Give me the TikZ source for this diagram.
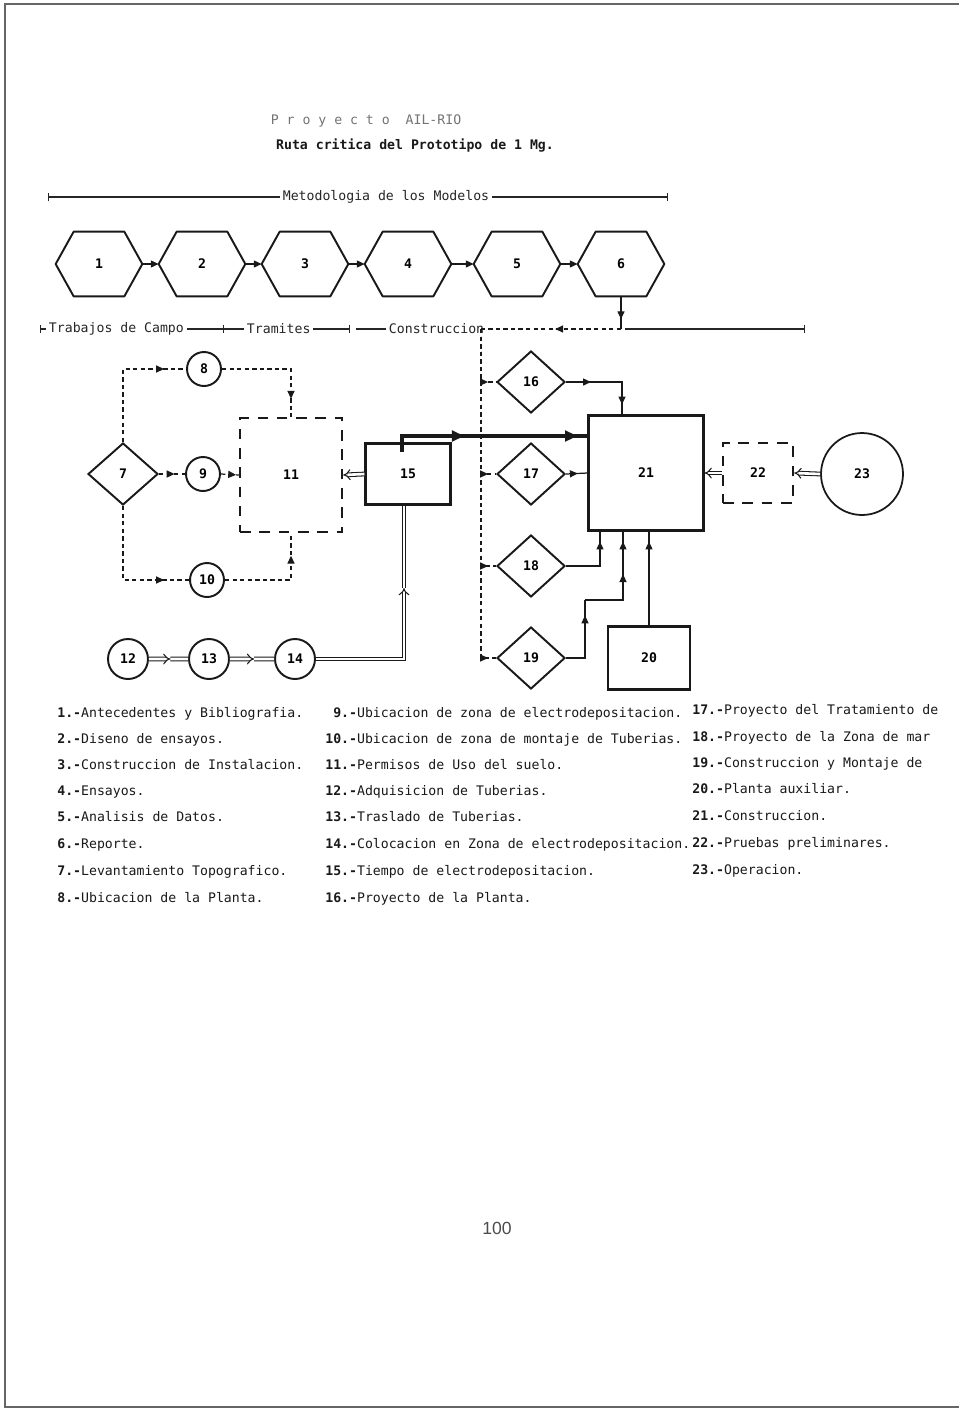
\documentclass[tikz,border=0pt]{standalone}
\usepackage{fontspec}
\setsansfont{Liberation Sans}
\newfontfamily\twfont{DejaVu Sans Mono}
\usetikzlibrary{arrows.meta,shapes.geometric,decorations.markings,calc}
\newcommand\legfont{\twfont\fontsize{7.5pt}{9pt}\selectfont}
\newcommand\labfont{\twfont\bfseries\fontsize{7.5pt}{9pt}\selectfont}
\tikzset{
  tri/.tip={Triangle[length=4.5pt,width=4pt]},
  trib/.tip={Triangle[length=7pt,width=6pt]},
  imp/.tip={Implies[length=5pt,width=9pt]},
  amark/.style={postaction={decorate,decoration={markings,mark=at position #1 with {\arrow{tri}}}}},
  bmark/.style={postaction={decorate,decoration={markings,mark=at position #1 with {\arrow{trib}}}}},
  ln/.style={draw=black!90, line width=1.1pt},
  hexnode/.style={minimum width=1.72cm, minimum height=1.28cm, inner sep=0pt, font=\labfont},
  dia/.style={diamond, draw=black!90, line width=1.1pt, minimum width=1.36cm, minimum height=1.24cm, inner sep=0pt, font=\labfont},
  smallc/.style={circle, draw=black!90, line width=1.1pt, minimum size=0.68cm, inner sep=0pt, font=\labfont},
  midc/.style={circle, draw=black!90, line width=1.1pt, minimum size=0.8cm, inner sep=0pt, font=\labfont},
  bigc/.style={circle, draw=black!90, line width=1pt, minimum size=1.64cm, inner sep=0pt, font=\labfont},
  box/.style={rectangle, draw=black!90, line width=1.2pt, inner sep=0pt, font=\labfont},
  dbox/.style={box, line width=1.4pt, dash pattern=on 6pt off 5pt},
  con/.style={draw=black!90, line width=0.7pt},
  dot/.style={draw=black!90, line width=0.7pt, dash pattern=on 2.5pt off 1.8pt},
  dbl/.style={draw=black!90, double, double distance=1.5pt, line width=0.6pt},
  thk/.style={draw=black!90, line width=2.3pt},
  phase/.style={draw=black!85, line width=0.7pt},
  ph/.style={font=\legfont, text=black!85, inner sep=1.5pt},
  leg/.style={anchor=west, inner sep=0pt, font=\legfont, text=black!90, text height=1.6ex, text depth=0.4ex},
}
\begin{document}
\begin{tikzpicture}[x=0.02cm,y=-0.02cm]
\fill[white] (0,0) rectangle (959,1411);
\useasboundingbox (0,0) rectangle (959,1411);
\draw[black!60, line width=0.6pt] (959,4) -- (5,4) -- (5,1407) -- (959,1407);

% title
\node[font=\legfont, text=black!55] (t1) at (366,121) {P r o y e c t o\ \ AIL-RIO};
\node[font=\labfont, text=black!90] (t2) at (415,146) {Ruta critica del Prototipo de 1 Mg.};

% top timeline
\node[ph] (pM) at (386,197) {Metodologia de los Modelos};
\coordinate (m0) at (48,197);
\coordinate (m1) at (668,197);
\draw[phase,{Bar[width=5pt]}-] (m0) -- (pM.west);
\draw[phase,-{Bar[width=5pt]}] (pM.east) -- (m1);

% hexagons
\node[hexnode] (h1) at (99,264) {1};
\node[hexnode] (h2) at (202,264) {2};
\node[hexnode] (h3) at (305,264) {3};
\node[hexnode] (h4) at (408,264) {4};
\node[hexnode] (h5) at (517,264) {5};
\node[hexnode] (h6) at (621,264) {6};
\foreach \n in {1,...,6}{
  \draw[ln, line join=round] (h\n.west) -- ($(h\n.north west)+(18,0)$) -- ($(h\n.north east)+(-18,0)$) -- (h\n.east) -- ($(h\n.south east)+(-18,0)$) -- ($(h\n.south west)+(18,0)$) -- cycle;
}
\foreach \a/\b in {1/2,2/3,3/4,4/5,5/6}{
  \draw[con,-{tri}] (h\a.east) -- (h\b.west);
}

% phase line
\node[ph, anchor=west] (pTC) at (46,329) {Trabajos de Campo};
\node[ph, anchor=west] (pTr) at (244,329) {Tramites};
\node[ph, anchor=west] (pC) at (386,329) {Construccion};
\coordinate (p0) at (40,329);
\coordinate (b1) at (224,329);
\coordinate (b2) at (350,329);
\coordinate (b3) at (356,329);
\coordinate (j6) at (621,329);
\coordinate (jc) at (481,329);
\coordinate (pe) at (805,329);
\draw[phase,{Bar[width=5pt]}-] (p0) -- (pTC.west);
\draw[phase,-{Bar[width=5pt]}] (pTC.east) -- (b1);
\draw[phase] (b1) -- (pTr.west);
\draw[phase,-{Bar[width=5pt]}] (pTr.east) -- (b2);
\draw[phase] (b3) -- (pC.west);
\draw[phase,-{Bar[width=5pt]}] ($(j6)+(4,0)$) -- (pe);
\draw[con, amark=0.7] (h6.south) -- (j6);
\draw[dot, amark=0.47] (j6) -- (jc);

% left network
\node[dia, minimum width=1.4cm] (n7) at (123,474) {7};
\node[smallc] (n8) at (204,369) {8};
\node[smallc] (n9) at (203,474) {9};
\node[smallc] (n10) at (207,580) {10};
\node[dbox, minimum width=2.04cm, minimum height=2.28cm] (n11) at (291,475) {11};
\node[midc] (n12) at (128,659) {12};
\node[midc] (n13) at (209,659) {13};
\node[midc] (n14) at (295,659) {14};
\node[box, minimum width=1.7cm, minimum height=1.22cm] (n15) at (408,474) {15};

\draw[dot, amark=-0.44cm] (n7.north) |- (n8.west);
\draw[dot, amark=-0.36cm] (n8.east) -| (n11.north);
\draw[dot, amark=0.6] (n7.east) -- (n9.west);
\draw[dot, amark=0.85] (n9.east) -- (n11.west);
\draw[dot, amark=-0.5cm] (n7.south) |- (n10.west);
\draw[dot, amark=-0.45cm] (n10.east) -| (n11.south);

\draw[dbl,-{imp}] (n15.west) -- (n11.east);
\coordinate (m12) at ($(n12.east)!0.55!(n13.west)$);
\coordinate (m13) at ($(n13.east)!0.55!(n14.west)$);
\draw[dbl,-{imp}] (n12.east) -- (m12);
\draw[dbl] (m12) -- (n13.west);
\draw[dbl,-{imp}] (n13.east) -- (m13);
\draw[dbl] (m13) -- (n14.west);
\coordinate (c14) at (404,588);
\draw[dbl,-{imp}] (n14.east) -| (c14);
\draw[dbl] (c14) -- (c14 |- n15.south);

% right network
\node[dia] (n16) at (531,382) {16};
\node[dia] (n17) at (531,474) {17};
\node[dia] (n18) at (531,566) {18};
\node[dia] (n19) at (531,658) {19};
\node[box, line width=1.5pt, minimum width=1.64cm, minimum height=1.26cm] (n20) at (649,658) {20};
\node[box, minimum width=2.3cm, minimum height=2.3cm] (n21) at (646,473) {21};
\node[dbox, minimum width=1.4cm, minimum height=1.2cm] (n22) at (758,473) {22};
\node[bigc] (n23) at (862,474) {23};

\coordinate (t1) at (402,436);
\draw[thk, bmark=0.39, bmark=0.95] ($(n15.north)+(-6,10)$) -- (t1) -- (t1 -| n21.west);

\draw[dot, amark=-0.16cm] (jc) |- (n16.west);
\draw[dot, amark=-0.16cm] (jc) |- (n17.west);
\draw[dot, amark=-0.16cm] (jc) |- (n18.west);
\draw[dot, amark=-0.16cm] (jc) |- (n19.west);

\draw[con, amark=0.5cm, amark=-0.2cm] (n16.east) -| ($(n21.north)+(-24,0)$);
\draw[con, amark=0.55] (n17.east) -- (n21.west);
\draw[con, amark=-0.2cm] (n18.east) -| ($(n21.south)+(-46,0)$);
\coordinate (c19a) at (585,600);
\draw[con, amark=0.8] (n19.east) -| (c19a);
\draw[con, amark=0.6, amark=-0.2cm] (c19a) -- (c19a -| 623,0) -- ($(n21.south)+(-23,0)$);
\draw[con, amark=-0.2cm] (n20.north) -- (n20.north |- n21.south);

\draw[dbl,-{imp}] (n22.west) -- (n21.east);
\draw[dbl,-{imp}] (n23.west) -- (n22.east);

% legend
\node[leg] (L1) at (57,713) {\textbf{1.-}Antecedentes y Bibliografia.};
\node[leg] (L2) at (57,739) {\textbf{2.-}Diseno de ensayos.};
\node[leg] (L3) at (57,765) {\textbf{3.-}Construccion de Instalacion.};
\node[leg] (L4) at (57,791) {\textbf{4.-}Ensayos.};
\node[leg] (L5) at (57,817) {\textbf{5.-}Analisis de Datos.};
\node[leg] (L6) at (57,844) {\textbf{6.-}Reporte.};
\node[leg] (L7) at (57,871) {\textbf{7.-}Levantamiento Topografico.};
\node[leg] (L8) at (57,898) {\textbf{8.-}Ubicacion de la Planta.};

\node[leg] (L9) at (325,713) {\phantom{1}\textbf{9.-}Ubicacion de zona de electrodepositacion.};
\node[leg] (L10) at (325,739) {\textbf{10.-}Ubicacion de zona de montaje de Tuberias.};
\node[leg] (L11) at (325,765) {\textbf{11.-}Permisos de Uso del suelo.};
\node[leg] (L12) at (325,791) {\textbf{12.-}Adquisicion de Tuberias.};
\node[leg] (L13) at (325,817) {\textbf{13.-}Traslado de Tuberias.};
\node[leg] (L14) at (325,844) {\textbf{14.-}Colocacion en Zona de electrodepositacion.};
\node[leg] (L15) at (325,871) {\textbf{15.-}Tiempo de electrodepositacion.};
\node[leg] (L16) at (325,898) {\textbf{16.-}Proyecto de la Planta.};

\node[leg] (L17) at (692,710) {\textbf{17.-}Proyecto del Tratamiento de};
\node[leg] (L18) at (692,737) {\textbf{18.-}Proyecto de la Zona de mar};
\node[leg] (L19) at (692,763) {\textbf{19.-}Construccion y Montaje de};
\node[leg] (L20) at (692,789) {\textbf{20.-}Planta auxiliar.};
\node[leg] (L21) at (692,816) {\textbf{21.-}Construccion.};
\node[leg] (L22) at (692,843) {\textbf{22.-}Pruebas preliminares.};
\node[leg] (L23) at (692,870) {\textbf{23.-}Operacion.};

\node[font=\sffamily\fontsize{10pt}{12pt}\selectfont, text=black!70] (pg) at (497,1228) {100};
\end{tikzpicture}
\end{document}
